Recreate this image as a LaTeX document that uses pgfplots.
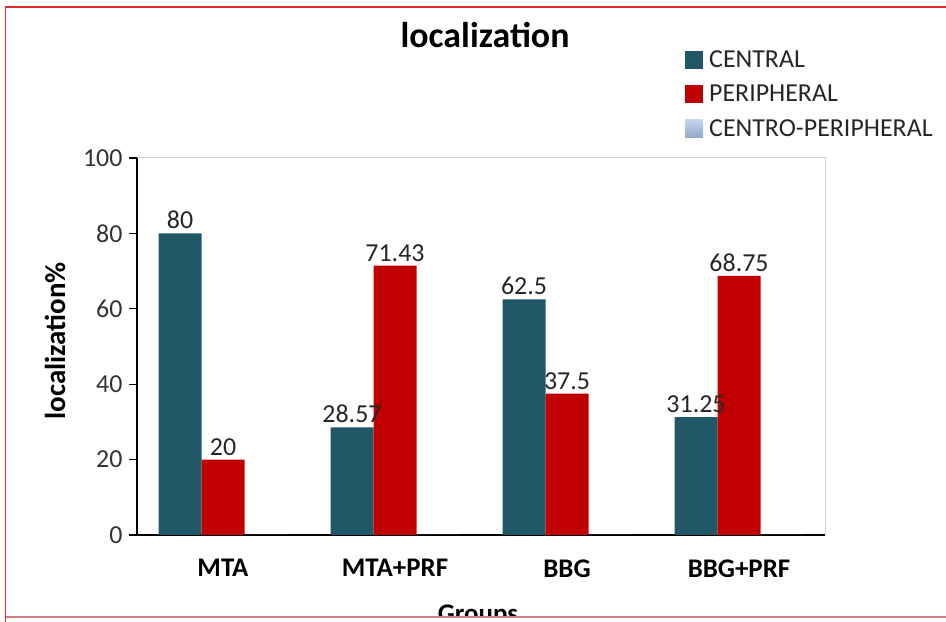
\documentclass[border=0pt]{standalone}
\usepackage{fontspec}
\setmainfont{Carlito}
\usepackage{pgfplots}
\pgfplotsset{compat=1.18}
\definecolor{central}{HTML}{215868}
\definecolor{periph}{HTML}{C00000}
\definecolor{cpTop}{HTML}{C6D7EC}
\definecolor{cpBot}{HTML}{8EA9CC}
\definecolor{frameRed}{HTML}{E02828}
\definecolor{framePink}{HTML}{D08080}
\begin{document}
\begin{tikzpicture}[x=1bp,y=1bp]
\useasboundingbox (0,0) rectangle (946,622);
\begin{axis}[
  at={(137bp,87bp)}, anchor=south west,
  scale only axis, width=688bp, height=377bp,
  ybar=0pt, bar width=43bp,
  xmin=-0.5, xmax=3.5, ymin=0, ymax=100,
  axis x line*=bottom, axis y line*=left,
  axis line style={black, line width=1.3bp},
  xtick={0,1,2,3}, xticklabels={MTA,MTA+PRF,BBG,BBG+PRF},
  xtick style={draw=none},
  xticklabel style={font=\bfseries\fontsize{27}{27}\selectfont, yshift=-13bp},
  ytick={0,20,40,60,80,100},
  ytick align=outside, major tick length=8bp,
  ytick style={black, line width=1.3bp},
  yticklabel style={font=\fontsize{26}{26}\selectfont, text=black!80, xshift=-3bp},
  /pgf/number format/assume math mode=true,
  /pgf/number format/fixed,
  nodes near coords style={font=\fontsize{26}{26}\selectfont, black!85, inner sep=4bp},
  legend style={at={(0.7965,1.29)}, anchor=north west, draw=none, fill=none,
    font=\fontsize{26}{26}\selectfont, row sep=12bp, inner sep=0pt,
    nodes={inner sep=2bp, text=black!85}},
  legend cell align=left,
  clip=false,
]
\addplot[fill=central, draw=none, nodes near coords,
  legend image code/.code={\fill[central] (0,-9bp) rectangle (18bp,9bp); \path (22bp,0);}]
  coordinates {(0,80) (1,28.57) (2,62.5) (3,31.25)};
\addlegendentry{CENTRAL}
\addplot[fill=periph, draw=none, nodes near coords,
  legend image code/.code={\fill[periph] (0,-9bp) rectangle (18bp,9bp); \path (22bp,0);}]
  coordinates {(0,20) (1,71.43) (2,37.5) (3,68.75)};
\addlegendentry{PERIPHERAL}
\addplot[fill=cpBot, draw=none,
  legend image code/.code={\shade[top color=cpTop, bottom color=cpBot] (0,-9bp) rectangle (18bp,9bp); \path (22bp,0);}]
  coordinates {(0,0) (1,0) (2,0) (3,0)};
\addlegendentry{CENTRO-PERIPHERAL}
\draw[black!18, line width=1bp] (rel axis cs:0,1) -- (rel axis cs:1,1) -- (rel axis cs:1,0);
\end{axis}
\node[font=\bfseries\fontsize{36}{36}\selectfont] at (485,587) {localization};
\node[rotate=90, font=\bfseries\fontsize{29}{29}\selectfont] at (55,281) {localization\%};
\begin{scope}
\clip (0,5) rectangle (946,622);
\node[font=\bfseries\fontsize{27}{27}\selectfont, anchor=north, inner sep=0pt] at (478,17) {Groups};
\end{scope}
\draw[frameRed, line width=1.2bp] (5.5,0) -- (5.5,615) -- (946,615);
\draw[framePink, line width=1.2bp] (5.5,5) -- (946,5);
\end{tikzpicture}
\end{document}
